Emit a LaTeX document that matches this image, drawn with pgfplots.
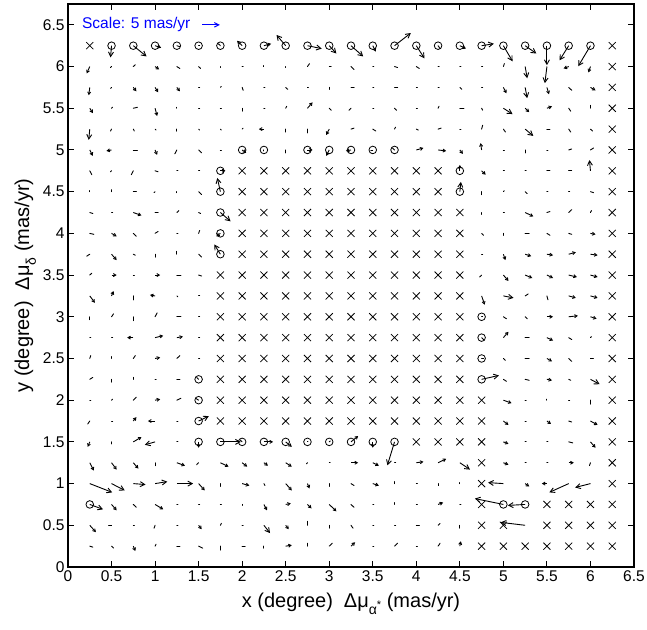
\documentclass[border=0pt]{standalone}
\usepackage{pgfplots}
\pgfplotsset{compat=1.18}
\usepackage{pgfplotstable}
\usepackage{fontspec}
\setmainfont{Liberation Sans}
\usetikzlibrary{arrows.meta}

% crosses (x, y in degree)
\pgfplotstableread{
x y
0.25 6.25
6.25 0.25
6.25 0.5
6.25 0.75
6.25 1
6.25 1.25
6.25 1.5
6.25 1.75
6.25 2
6.25 2.25
6.25 2.5
6.25 2.75
6.25 3
6.25 3.25
6.25 3.5
6.25 3.75
6.25 4
6.25 4.25
6.25 4.5
6.25 4.75
6.25 5
6.25 5.25
6.25 5.5
6.25 5.75
6.25 6
6.25 6.25
2 4.75
2.25 4.75
2.5 4.75
2.75 4.75
3 4.75
3.25 4.75
3.5 4.75
3.75 4.75
4 4.75
4.25 4.75
2 4.5
2.25 4.5
2.5 4.5
2.75 4.5
3 4.5
3.25 4.5
3.5 4.5
3.75 4.5
4 4.5
4.25 4.5
2 4.25
2.25 4.25
2.5 4.25
2.75 4.25
3 4.25
3.25 4.25
3.5 4.25
3.75 4.25
4 4.25
4.25 4.25
4.5 4.25
2 4
2.25 4
2.5 4
2.75 4
3 4
3.25 4
3.5 4
3.75 4
4 4
4.25 4
4.5 4
2 3.75
2.25 3.75
2.5 3.75
2.75 3.75
3 3.75
3.25 3.75
3.5 3.75
3.75 3.75
4 3.75
4.25 3.75
4.5 3.75
1.75 3.5
2 3.5
2.25 3.5
2.5 3.5
2.75 3.5
3 3.5
3.25 3.5
3.5 3.5
3.75 3.5
4 3.5
4.25 3.5
4.5 3.5
1.75 3.25
2 3.25
2.25 3.25
2.5 3.25
2.75 3.25
3 3.25
3.25 3.25
3.5 3.25
3.75 3.25
4 3.25
4.25 3.25
4.5 3.25
1.75 3
2 3
2.25 3
2.5 3
2.75 3
3 3
3.25 3
3.5 3
3.75 3
4 3
4.25 3
4.5 3
1.75 2.75
2 2.75
2.25 2.75
2.5 2.75
2.75 2.75
3 2.75
3.25 2.75
3.5 2.75
3.75 2.75
4 2.75
4.25 2.75
4.5 2.75
1.75 2.5
2 2.5
2.25 2.5
2.5 2.5
2.75 2.5
3 2.5
3.25 2.5
3.5 2.5
3.75 2.5
4 2.5
4.25 2.5
4.5 2.5
1.75 2.25
2 2.25
2.25 2.25
2.5 2.25
2.75 2.25
3 2.25
3.25 2.25
3.5 2.25
3.75 2.25
4 2.25
4.25 2.25
4.5 2.25
1.75 2
2 2
2.25 2
2.5 2
2.75 2
3 2
3.25 2
3.5 2
3.75 2
4 2
4.25 2
4.5 2
4.75 2
1.75 1.75
2 1.75
2.25 1.75
2.5 1.75
2.75 1.75
3 1.75
3.25 1.75
3.5 1.75
3.75 1.75
4 1.75
4.25 1.75
4.5 1.75
4.75 1.75
4 1.5
4.25 1.5
4.5 1.5
4.75 1.5
4.75 1.25
4.75 1
4.75 0.75
5.5 0.75
5.75 0.75
6 0.75
4.75 0.5
5 0.5
5.5 0.5
5.75 0.5
6 0.5
4.75 0.25
5 0.25
5.25 0.25
5.5 0.25
5.75 0.25
6 0.25
}\tabCross

% circles
\pgfplotstableread{
x y
0.5 6.25
0.75 6.25
1 6.25
1.25 6.25
1.5 6.25
1.75 6.25
2 6.25
2.25 6.25
2.5 6.25
2.75 6.25
3 6.25
3.25 6.25
3.5 6.25
3.75 6.25
4 6.25
4.25 6.25
4.5 6.25
4.75 6.25
5 6.25
5.25 6.25
5.5 6.25
5.75 6.25
6 6.25
2 5
2.25 5
2.75 5
3 5
3.25 5
3.5 5
3.75 5
1.75 4.75
4.5 4.75
1.75 4.5
4.5 4.5
1.75 4.25
1.75 4
1.75 3.75
4.75 3
4.75 2.75
4.75 2.5
4.75 2.25
1.5 2.25
1.5 2
1.5 1.75
1.5 1.5
1.75 1.5
2 1.5
2.25 1.5
2.5 1.5
2.75 1.5
3 1.5
3.25 1.5
3.5 1.5
3.75 1.5
0.25 0.75
5 0.75
5.25 0.75
}\tabCirc

% long vectors (u, v in pixels of the figure)
\pgfplotstableread{
x y u v
0.5 6.25 -1 -12
0.75 6.25 13 -11
2.5 6.25 -9 11
2.75 6.25 14 -3
3 6.25 7 -8
3.25 6.25 12 -11
3.75 6.25 16 13
4 6.25 8 -13
4.75 6.25 12 2
5 6.25 9 -16
5.25 6.25 11 -8
5.5 6.25 0 -20
5.75 6.25 -9 -15
6 6.25 -12 -21
5.25 6 2 -12
5.5 6 -2 -17
5.25 5.75 2 -11
5 5.5 9 -6
0.25 5.25 -1 -11
5.25 5.25 8 -7
6 4.75 -1 11
1.75 4.5 -3 14
4.5 4.5 1 10
1.75 4.25 10 -9
1.75 3.75 -6 10
5 3.25 10 -2
4.75 2.25 17 4
6 2.25 9 -5
1.5 1.75 10 5
1 1.5 -10 -3
1.75 1.5 20 0
3.75 1.5 -7 -24
4.5 1.25 10 -7
0.25 1 22 -9
0.5 1 13 -7
0.75 1 12 -1
1 1 12 2
1.25 1 16 0
5 1 -15 1
5.75 1 -19 -9
6 1 -15 -4
0.25 0.75 13 -5
5 0.75 -28 6
5.25 0.75 -17 -1
2.25 0.5 6 -8
5.25 0.5 -24 3
}\tabB

% medium vectors
\pgfplotstableread{
x y u v
1 6.25 6 -2
2 6.25 -5 5
2.25 6.25 7 2
3.5 6.25 3 -6
4.5 6.25 6 -3
0.25 6 -3 -7
1 6 4 -3
5.75 6 -5 -2
6 6 -2 -6
0.25 5.75 -1 -8
0.75 5.75 3 -4
1 5.75 3 -5
1.25 5.75 3 -4
5 5.75 3 -6
5.5 5.75 2 -7
6 5.75 5 -3
0.25 5.5 3 -5
1 5.5 2 -8
2.75 5.5 5 6
5.25 5.5 4 -4
5.5 5.5 5 2
2.25 5.25 -5 0
3 5.25 -3 -6
0.25 5 3 -6
0.5 5 -5 -1
1 5 2 -5
2 5 4 -3
2.75 5 5 0
3 5 -3 -6
3.25 5 -5 -1
4 5 7 2
4.25 5 8 -1
4.5 5 3 -4
4.75 5 -1 7
1.75 4.75 5 0
4.5 4.75 0 6
4.75 4.75 4 -4
0.75 4.25 8 -3
5.25 4.25 8 -4
0.5 4 5 -3
1.75 4 -4 -3
6 4 5 -1
0.5 3.75 5 -6
5 3.75 2 -6
5.25 3.75 6 -2
5.5 3.75 6 -1
5.75 3.75 7 2
6 3.75 7 -1
0.5 3.5 5 0
1 3.5 5 0
5 3.5 5 -6
5.25 3.5 7 -3
5.5 3.5 6 -3
5.75 3.5 8 -2
6 3.5 7 -2
0.25 3.25 5 -7
0.5 3.25 2 5
1 3.25 -5 1
4.75 3.25 3 -9
5.75 3.25 7 -2
6 3.25 7 -2
5.5 3 6 0
5.75 3 9 1
6 3 6 -2
0.75 2.75 -6 0
1 2.75 8 2
1.25 2.75 6 1
5 2.75 5 6
5.5 2.75 6 -3
1 2.5 5 1
5.5 2.5 5 -3
5.5 2.25 5 -1
1 2 5 1
5 2 8 -3
0.75 1.75 3 4
1 1.75 -7 0
5 1.75 5 -4
5.5 1.75 4 -3
6 1.75 7 -4
0.25 1.5 -2 -5
0.75 1.5 8 5
1.5 1.5 0 -6
2.25 1.5 9 0
2.5 1.5 6 -5
3.25 1.5 7 6
3.5 1.5 0 -6
5 1.5 5 -2
6 1.5 5 -6
0.25 1.25 4 -8
0.5 1.25 5 -7
0.75 1.25 5 -6
1.25 1.25 8 -3
1.75 1.25 8 -4
2 1.25 5 -4
2.25 1.25 4 -3
2.5 1.25 6 -4
3.25 1.25 7 0
3.5 1.25 6 -3
4 1.25 7 1
4.25 1.25 8 4
5 1.25 5 -2
5.75 1.25 5 0
1.5 1 6 -7
2 1 7 -2
2.5 1 6 -7
2.75 1 2 -5
3.5 1 6 -2
5.25 1 4 -3
5.5 1 -5 0
0.5 0.75 5 -6
1 0.75 8 -5
2.25 0.75 3 -6
2.5 0.75 5 1
2.75 0.75 4 -4
3 0.75 7 -7
4.25 0.75 5 2
0.25 0.5 6 -7
1.5 0.5 3 -4
2.5 0.5 3 -4
0.75 0.25 2 -5
2.5 0.25 6 1
3.25 0.25 4 4
4.5 0.25 1 5
}\tabM

% short vectors
\pgfplotstableread{
x y u v
1.25 6.25 3 -1
1.5 6.25 1 0
1.75 6.25 -2 2
4.25 6.25 2 -3
0.5 6 -1 -1
0.75 6 2 2
1.25 6 3 -2
1.5 6 2 -2
1.75 6 0 -1
2 6 1 0
2.25 6 0 1
2.5 6 0 -1
2.75 6 2 3
3 6 2 0
3.25 6 3 -3
3.5 6 1 0
3.75 6 3 -1
4 6 3 -2
4.25 6 1 0
4.5 6 1 0
4.75 6 1 0
5 6 1 3
0.5 5.75 -1 -1
1.5 5.75 1 0
1.75 5.75 1 1
2 5.75 1 -3
2.25 5.75 1 0
2.5 5.75 2 -2
2.75 5.75 1 0
3 5.75 0 -2
3.25 5.75 3 0
3.5 5.75 1 0
3.75 5.75 3 0
4 5.75 1 0
4.25 5.75 1 0
4.5 5.75 2 -2
4.75 5.75 1 0
5.75 5.75 3 -3
0.5 5.5 1 1
0.75 5.5 4 1
1.25 5.5 0 1
1.5 5.5 1 0
1.75 5.5 1 0
2 5.5 0 -3
2.25 5.5 1 0
2.5 5.5 1 2
3 5.5 2 -2
3.25 5.5 -2 -2
3.5 5.5 1 0
3.75 5.5 2 -2
4 5.5 1 0
4.25 5.5 1 2
4.5 5.5 4 0
4.75 5.5 1 -2
5.75 5.5 2 -3
6 5.5 0 3
0.5 5.25 -1 -2
0.75 5.25 1 -2
1 5.25 1 -1
1.25 5.25 0 -2
1.5 5.25 1 -1
1.75 5.25 1 -1
2 5.25 1 1
2.5 5.25 0 -3
2.75 5.25 0 -4
3.25 5.25 3 1
3.5 5.25 3 -2
3.75 5.25 1 2
4 5.25 2 -1
4.25 5.25 3 1
4.5 5.25 1 0
4.75 5.25 1 4
5 5.25 2 -3
5.5 5.25 3 0
5.75 5.25 2 -3
6 5.25 2 -2
0.75 5 4 0
1.25 5 -2 -4
1.5 5 3 -3
1.75 5 1 0
2.25 5 0 -1
2.5 5 0 -3
3.5 5 -2 0
3.75 5 -2 2
5 5 1 0
5.25 5 0 -3
5.5 5 1 0
5.75 5 3 1
6 5 3 2
0.25 4.75 2 -4
0.5 4.75 -1 -1
0.75 4.75 -2 -4
1 4.75 3 -1
1.25 4.75 1 0
1.5 4.75 1 0
5 4.75 1 0
5.25 4.75 1 0
5.5 4.75 3 0
5.75 4.75 3 0
0.25 4.5 0 1
0.5 4.5 0 2
0.75 4.5 3 0
1 4.5 -1 -1
1.25 4.5 0 -1
1.5 4.5 3 -3
4.75 4.5 0 -3
5 4.5 1 1
5.25 4.5 2 -2
5.5 4.5 1 0
5.75 4.5 1 0
6 4.5 3 -1
0.25 4.25 3 -1
0.5 4.25 1 0
1 4.25 3 0
1.25 4.25 2 2
1.5 4.25 2 -1
4.75 4.25 0 -2
5 4.25 1 0
5.5 4.25 3 1
5.75 4.25 3 3
6 4.25 1 2
0.25 4 4 -1
0.75 4 3 -3
1 4 3 2
1.25 4 1 0
1.5 4 1 3
4.75 4 2 -2
5 4 0 -2
5.25 4 4 0
5.5 4 3 -2
5.75 4 3 -1
0.25 3.75 -3 -2
0.75 3.75 2 -1
1 3.75 0 -3
1.25 3.75 0 3
1.5 3.75 3 -3
4.75 3.75 1 0
0.25 3.5 2 2
0.75 3.5 1 0
1.25 3.5 4 0
1.5 3.5 3 -1
4.75 3.5 -2 -2
0.75 3.25 0 -4
1.25 3.25 1 -1
1.5 3.25 1 0
5.25 3.25 3 2
5.5 3.25 1 -4
0.25 3 0 -3
0.5 3 2 3
0.75 3 0 -4
1 3 2 4
1.25 3 4 0
1.5 3 1 0
4.75 3 1 0
5 3 3 -2
5.25 3 2 -2
0.25 2.75 1 0
0.5 2.75 1 0
1.5 2.75 1 0
4.75 2.75 2 -2
5.25 2.75 4 0
5.75 2.75 3 -2
6 2.75 1 1
0.25 2.5 1 3
0.5 2.5 0 2
0.75 2.5 2 3
1.25 2.5 3 3
1.5 2.5 1 0
4.75 2.5 2 0
5 2.5 2 -2
5.25 2.5 4 0
5.75 2.5 3 -3
6 2.5 3 0
0.25 2.25 3 2
0.5 2.25 0 -3
0.75 2.25 0 2
1 2.25 1 0
1.25 2.25 3 0
1.5 2.25 -2 2
5 2.25 3 -2
5.25 2.25 4 -1
5.75 2.25 2 -1
0.25 2 1 0
0.5 2 1 1
0.75 2 3 3
1.25 2 4 2
1.5 2 -3 2
5.25 2 1 0
5.5 2 0 1
5.75 2 1 0
6 2 0 -4
0.25 1.75 -2 -3
0.5 1.75 1 0
1.25 1.75 1 0
5.25 1.75 1 0
5.75 1.75 3 -1
0.5 1.5 0 -2
1.25 1.5 1 0
2 1.5 -2 2
2.75 1.5 0.5 0
3 1.5 1 1
5.25 1.5 1 0
5.5 1.5 1 0
5.75 1.5 4 -1
1 1.25 0 -3
1.5 1.25 -2 -2
2.75 1.25 -1 -1
3 1.25 1 0
3.75 1.25 1 0
5.25 1.25 1 0
5.5 1.25 1 0
6 1.25 -1 -3
1.75 1 0 -3
2.25 1 1 -2
3 1 0 -3
3.25 1 3 -2
3.75 1 0 2
4 1 1 0
4.25 1 0 -2
4.5 1 0 1
0.75 0.75 3 -3
1.25 0.75 1 0
1.5 0.75 1 0
1.75 0.75 1 0
2 0.75 0 -1
3.25 0.75 3 -3
3.5 0.75 1 0
3.75 0.75 0 2
4 0.75 1 0
4.5 0.75 1 0
0.5 0.5 -3 0
0.75 0.5 1 0
1 0.5 -1 -3
1.25 0.5 1 0
1.75 0.5 1 2
2 0.5 1 0
2.75 0.5 0 4
3 0.5 0 -3
3.25 0.5 2 -3
3.5 0.5 1 0
3.75 0.5 1 0
4 0.5 3 0
4.25 0.5 2 2
4.5 0.5 0 -3
0.25 0.25 3 -1
0.5 0.25 2 -2
1 0.25 1 2
1.25 0.25 3 0
1.5 0.25 4 -2
1.75 0.25 0 -4
2 0.25 3 0
2.25 0.25 0 -2
2.75 0.25 0 3
3 0.25 3 3
3.5 0.25 1 0
3.75 0.25 3 3
4 0.25 1 0
4.25 0.25 2 3
}\tabS

% scale arrow: 5 mas/yr
\pgfplotstableread{
x y u v
1.54 6.5 17.5 0
}\tabScale

\begin{document}
\begin{tikzpicture}
\useasboundingbox (-68pt,-62pt) rectangle (579pt,567pt);
\begin{axis}[
  at={(0,0)}, anchor=south west,
  scale only axis, width=566pt, height=563pt,
  xmin=0, xmax=6.5, ymin=0, ymax=6.75,
  xtick={0,0.5,1,1.5,2,2.5,3,3.5,4,4.5,5,5.5,6,6.5},
  ytick={0,0.5,1,1.5,2,2.5,3,3.5,4,4.5,5,5.5,6,6.5},
  tick align=inside, tick pos=both, major tick length=6pt,
  axis line style={line width=1.2pt},
  tick style={line width=1pt, black},
  /pgf/number format/assume math mode=true,
  /pgf/number format/fixed,
  ticklabel style={font=\fontsize{15.5}{15.5}\selectfont},
  label style={font=\fontsize{20}{22}\selectfont},
  xlabel style={yshift=-5pt},
  xlabel={x (degree)\hspace{0.55em}Δμ\raisebox{-0.65ex}{\fontsize{14}{14}\selectfont α\raisebox{0.8ex}{\fontsize{11}{11}\selectfont *}} (mas/yr)},
  ylabel={y (degree)\hspace{0.55em}Δμ\raisebox{-0.65ex}{\fontsize{14}{14}\selectfont δ} (mas/yr)},
]
\addplot[only marks, mark=x, mark size=5pt, mark options={line width=0.75pt}, black] table {\tabCross};
\addplot[only marks, mark=o, mark size=3.8pt, mark options={line width=0.8pt}, black] table {\tabCirc};
\addplot[black, line width=0.9pt, line cap=round,
  quiver={u=\thisrow{u}, v=\thisrow{v}, scale arrows=0.0117}] table {\tabS};
\addplot[black, line width=0.9pt,
  quiver={u=\thisrow{u}, v=\thisrow{v}, scale arrows=0.0117},
  -{Straight Barb[length=2.5pt,width=3pt]}] table {\tabM};
\addplot[black, line width=0.9pt,
  quiver={u=\thisrow{u}, v=\thisrow{v}, scale arrows=0.0117},
  -{Straight Barb[length=4.5pt,width=5pt]}] table {\tabB};
\addplot[blue, line width=1pt,
  quiver={u=\thisrow{u}, v=\thisrow{v}, scale arrows=0.0117},
  -{Straight Barb[length=4.5pt,width=4.5pt]}] table {\tabScale};
\node[blue, anchor=west, inner sep=0pt, font=\fontsize{15.5}{16}\selectfont] at (axis cs:0.16,6.5) {Scale: 5 mas/yr};
\end{axis}
\end{tikzpicture}
\end{document}
